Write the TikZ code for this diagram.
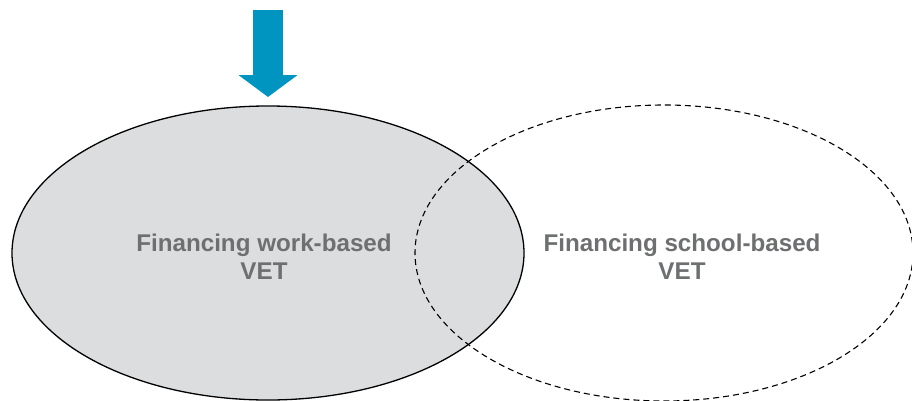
\documentclass[tikz,border=0pt]{standalone}
\usepackage{fontspec}
\setmainfont{Liberation Sans}
\usetikzlibrary{shapes.geometric,arrows.meta}
\definecolor{arrowblue}{RGB}{0,149,192}
\definecolor{fillgray}{RGB}{220,221,223}
\definecolor{textgray}{RGB}{110,111,113}
\begin{document}
\begin{tikzpicture}[x=1pt,y=1pt,
  circ/.style={ellipse, inner sep=0pt, line width=1.3pt},
  lbl/.style={align=center, text=textgray, font=\bfseries\fontsize{24.2}{28}\selectfont}]
\useasboundingbox (0,0) rectangle (912,400);
\node[circ, draw=black, fill=fillgray, minimum width=512pt, minimum height=294pt] (wb) at (268,147) {};
\node[circ, draw=black, dash pattern=on 6pt off 4pt, line width=1.1pt, minimum width=498pt, minimum height=296pt] (sb) at (664,147) {};
\node[lbl] (wbt) at (264,143) {Financing work-based\\VET};
\node[lbl] (sbt) at (682,143) {Financing school-based\\VET};
\coordinate (atop) at (268,390);
\coordinate (atip) at (268,303);
\draw[arrowblue, line width=30pt, -{Triangle[width=58pt,length=22pt]}] (atop) -- (atip);
\end{tikzpicture}
\end{document}
